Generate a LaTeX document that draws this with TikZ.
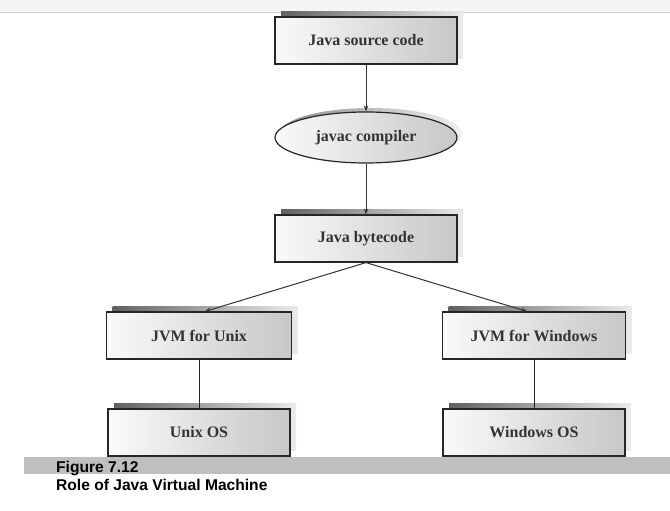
\documentclass[tikz,border=0pt]{standalone}
\usepackage{fontspec}
\setmainfont{Liberation Serif}
\newfontfamily\capfont{Liberation Sans}
\usetikzlibrary{shapes.geometric, arrows.meta, positioning, shadows}

\tikzset{
  jbox/.style={rectangle, draw=black!85, line width=1.2pt,
    left color=black!2, right color=black!22,
    minimum width=182pt, minimum height=47pt,
    font=\fontsize{16}{16}\selectfont\bfseries, text=black!80,
    general shadow={shadow xshift=6pt, shadow yshift=5pt,
      left color=black!62, right color=black!8}},
  jell/.style={ellipse, draw=black!85, line width=1.2pt,
    left color=black!2, right color=black!22,
    minimum width=182pt, minimum height=51pt, inner sep=0pt,
    font=\fontsize{16}{16}\selectfont\bfseries, text=black!80,
    general shadow={shadow xshift=5pt, shadow yshift=4pt,
      left color=black!45, right color=black!6}},
  flow/.style={draw=black!80, line width=1pt,
    -{Stealth[length=6pt, width=4.5pt]}},
  link/.style={draw=black!85, line width=1pt},
  caption/.style={anchor=base west, inner sep=0pt,
    font=\capfont\fontsize{15.6}{15.6}\selectfont\bfseries}
}

\begin{document}
\begin{tikzpicture}[x=1pt, y=1pt, node distance=97pt]
\useasboundingbox (0,0) rectangle (670,511);
% screen strip and caption bar
\fill[black!4] (0,499) rectangle (670,511);
\draw[black!18] (0,499) -- (670,499);
\fill[black!25] (24,37) rectangle (670,54);

\node[jbox] (src) at (366,470.5) {Java source code};
\node[jell] (javac) [below of=src] {javac compiler};
\node[jbox] (bytecode) [below of=javac, yshift=-4pt] {Java bytecode};
\node[jbox, minimum width=185pt] (jvmu) [below of=bytecode, xshift=-167pt] {JVM for Unix};
\node[jbox, minimum width=183pt] (jvmw) [below of=bytecode, xshift=168pt] {JVM for Windows};
\node[jbox] (unixos) [below of=jvmu] {Unix OS};
\node[jbox] (winos) [below of=jvmw] {Windows OS};

\draw[flow] (src) -- (javac);
\draw[flow] (javac) -- (bytecode);
\draw[flow] (bytecode.south) -- ([xshift=6pt]jvmu.north);
\draw[flow] (bytecode.south) -- ([xshift=-7pt]jvmw.north);
\draw[link] (jvmu) -- (unixos);
\draw[link] (jvmw) -- (winos);

\node[caption] (fig) at (56,38) {Figure 7.12};
\node[caption] (role) at (56,20) {Role of Java Virtual Machine};
\end{tikzpicture}
\end{document}
